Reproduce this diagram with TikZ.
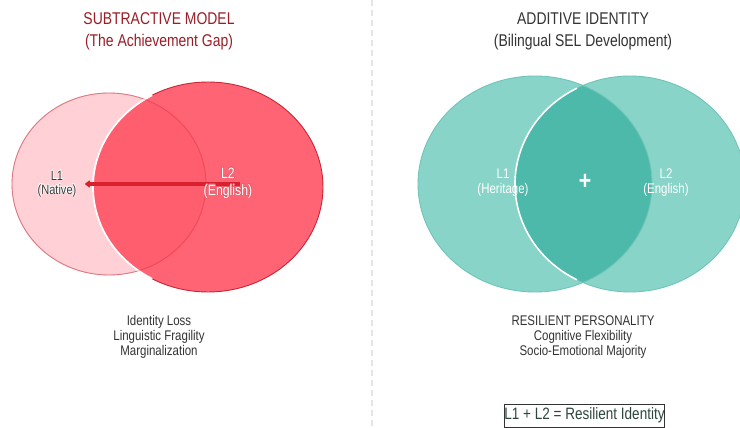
\documentclass[tikz,border=0pt]{standalone}
\usepackage{fontspec}
\setmainfont[FakeStretch=0.82]{Liberation Sans}
\usetikzlibrary{arrows.meta}

\definecolor{pinkfill}{HTML}{FFD1D6}
\definecolor{pinkline}{HTML}{E5939B}
\definecolor{redfill}{HTML}{FF4A5C}
\definecolor{redline}{HTML}{C82536}
\definecolor{arrowred}{HTML}{D8202F}
\definecolor{titlered}{HTML}{9A1E28}
\definecolor{tealfill}{HTML}{88D4C8}
\definecolor{tealdeep}{HTML}{4DB9AA}
\definecolor{tealline}{HTML}{6FC5B8}
\definecolor{inkgray}{HTML}{333333}
\definecolor{labelgray}{HTML}{3A3A3A}
\definecolor{dividergray}{HTML}{E2E5EB}
\definecolor{boxgreen}{HTML}{2C463C}
\definecolor{halored}{HTML}{E25C69}

% one copy of a text, moved by (#1,#2), taking no width
\newcommand\shiftcopy[3]{\makebox[0pt]{\kern#1\raisebox{#2}{#3}\kern-#1}}
% text in colour #2 with a thin outline in colour #1
\newcommand\outlined[3]{%
  \textcolor{#1}{%
    \shiftcopy{.6pt}{0pt}{#3}\shiftcopy{-.6pt}{0pt}{#3}%
    \shiftcopy{0pt}{.6pt}{#3}\shiftcopy{0pt}{-.6pt}{#3}%
    \shiftcopy{.45pt}{.45pt}{#3}\shiftcopy{-.45pt}{.45pt}{#3}%
    \shiftcopy{.45pt}{-.45pt}{#3}\shiftcopy{-.45pt}{-.45pt}{#3}}%
  \textcolor{#2}{\shiftcopy{0pt}{0pt}{#3}}}

\tikzset{
  title/.style={align=center, font=\fontsize{17}{22}\selectfont},
  caption/.style={align=center, text=inkgray, font=\fontsize{14}{15}\selectfont},
  lab/.style={align=center, font=\fontsize{14}{15}\selectfont},
}

\begin{document}
\begin{tikzpicture}[x=1pt, y=-1pt]
\useasboundingbox (0,0) rectangle (740,428);
\fill[white] (0,0) rectangle (740,428);

% divider between the two panels
\draw[dividergray, line width=1.6pt, dash pattern=on 6pt off 4pt] (372,0) -- (372,428);

% ---------- subtractive model ----------
\node[title, text=titlered] (subtitle) at (159,31) {SUBTRACTIVE MODEL\\(The Achievement Gap)};

\fill[pinkfill] (109,184) ellipse[x radius=97, y radius=91];
\draw[pinkline, line width=0.9pt] (109,184) ellipse[x radius=97, y radius=91];

\fill[redfill, fill opacity=0.85] (208,187) ellipse[x radius=115, y radius=105];
\draw[redline, line width=0.9pt] (208,187) ellipse[x radius=115, y radius=105];
\draw[white, line width=1.8pt] (208,187) ++(119:115 and 105)
  arc[start angle=119, end angle=241, x radius=115, y radius=105];
% faint trace of the native circle under the overlay
\draw[redline, opacity=0.25, line width=0.8pt] (109,184) ellipse[x radius=97, y radius=91];

\coordinate (l2src) at (240,184);
\coordinate (l1dst) at (85,184);
\draw[arrowred, line width=4pt, -{Stealth[length=6pt, width=9pt, round]}] (l2src) -- (l1dst);

\node[lab, font=\fontsize{13.5}{14}\selectfont] (l1native) at (57,184)
  {\outlined{white}{labelgray}{L1}\\\outlined{white}{labelgray}{(Native)}};
\node[lab, font=\fontsize{15}{17}\selectfont] (l2english) at (228,183)
  {\outlined{halored}{white}{L2}\\\outlined{halored}{white}{(English)}};

\node[caption] (subcaption) at (159,337)
  {Identity Loss\\Linguistic Fragility\\Marginalization};

% ---------- additive identity ----------
\node[title, text=inkgray] (addtitle) at (583,31) {ADDITIVE IDENTITY\\(Bilingual SEL Development)};

\fill[tealfill] (535,184) ellipse[x radius=117, y radius=108];
\fill[tealfill] (630,184) ellipse[x radius=115, y radius=108];
\begin{scope}
  \clip (535,184) ellipse[x radius=117, y radius=108];
  \fill[tealdeep] (630,184) ellipse[x radius=115, y radius=108];
\end{scope}
\draw[tealline, line width=0.9pt] (535,184) ellipse[x radius=117, y radius=108];
\draw[tealline, line width=0.9pt] (630,184) ellipse[x radius=115, y radius=108];
\draw[white, line width=1.6pt] (630,184) ++(117.5:115 and 108)
  arc[start angle=117.5, end angle=242.5, x radius=115, y radius=108];

\node[lab, text=white] (l1heritage) at (503,183) {L1\\(Heritage)};
\node[lab, text=white] (l2eng) at (666,183) {L2\\(English)};
\node[text=white, font=\fontsize{26}{26}\selectfont\bfseries] (plus) at (585,182) {+};

\node[caption] (addcaption) at (583,337)
  {RESILIENT PERSONALITY\\Cognitive Flexibility\\Socio-Emotional Majority};

\node[draw=inkgray, line width=0.9pt, text=boxgreen, font=\fontsize{16.5}{18}\selectfont,
      minimum width=155pt, minimum height=23pt, inner sep=0pt] (formula) at (584.5,415.5)
  {L1 + L2 = Resilient Identity};
\end{tikzpicture}
\end{document}
